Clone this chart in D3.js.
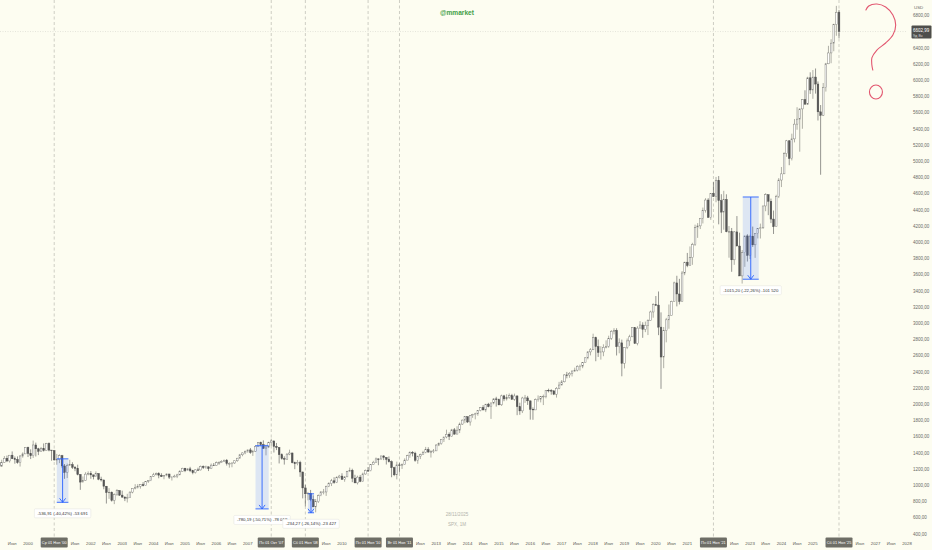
<!DOCTYPE html>
<html><head><meta charset="utf-8">
<script src="https://cdn.jsdelivr.net/npm/d3@7"></script>
<style>
html,body{margin:0;padding:0;background:#fdfdf1;overflow:hidden}
svg{display:block;font-family:"Liberation Sans",Arial,sans-serif}
</style>
</head><body>
<svg id="c" width="932" height="550"></svg>
<script>
// ---- DATA: SPX monthly candles, first month Jan 1999 ----
const firstMonth = "1999-01";
const opens = [
1229,1280,1238,1286,1335,1302,1373,1329,1320,1283,1363,1389,
1469,1394,1366,1499,1452,1421,1455,1431,1518,1436,1429,1315,
1320,1366,1240,1160,1249,1256,1224,1211,1134,1041,1060,1139,
1148,1130,1107,1147,1077,1067,990,912,916,815,886,936,
880,856,841,848,917,964,975,990,1008,996,1051,1058,
1112,1131,1145,1126,1107,1121,1141,1102,1104,1115,1130,1174,
1212,1181,1204,1181,1157,1192,1191,1234,1220,1229,1207,1250,
1248,1280,1281,1295,1311,1270,1270,1277,1304,1336,1378,1401,
1418,1438,1407,1421,1482,1531,1503,1455,1474,1527,1549,1481,
1468,1379,1331,1323,1386,1400,1280,1267,1283,1166,969,896,
903,826,735,798,873,919,919,988,1021,1057,1036,1096,
1115,1074,1105,1169,1187,1089,1031,1102,1049,1141,1183,1181,
1258,1286,1327,1326,1364,1345,1321,1292,1219,1131,1253,1247,
1258,1312,1366,1409,1398,1310,1362,1379,1407,1441,1412,1416,
1426,1498,1515,1569,1598,1631,1606,1686,1633,1682,1757,1806,
1848,1783,1860,1872,1884,1924,1960,1931,2003,1972,2018,2068,
2059,1995,2105,2068,2086,2107,2063,2104,1972,1920,2079,2080,
2044,1940,1932,2060,2065,2097,2099,2174,2171,2168,2126,2199,
2239,2279,2364,2363,2384,2412,2423,2470,2472,2519,2575,2648,
2674,2824,2714,2641,2648,2705,2718,2816,2902,2914,2712,2760,
2507,2704,2784,2834,2946,2752,2942,2980,2927,2977,3038,3141,
3231,3226,2954,2585,2912,3044,3100,3271,3500,3363,3270,3622,
3756,3714,3811,3973,4181,4204,4298,4395,4523,4308,4605,4567,
4766,4516,4374,4530,4132,4132,3785,4130,3955,3586,3872,4080,
3840,4077,3970,4109,4170,4180,4450,4589,4508,4288,4194,4568,
4770,4846,5096,5254,5036,5278,5460,5522,5648,5762,5706,6032,
5882,6041,5955,5612,5569,5912,6205,6339,6460,6689,6840];
const highs = [
1280,1280,1317,1362,1368,1373,1419,1357,1358,1373,1408,1474,
1478,1445,1553,1528,1464,1475,1518,1525,1531,1437,1438,1389,
1384,1377,1264,1269,1316,1286,1239,1256,1139,1110,1163,1173,
1177,1131,1173,1147,1107,1070,993,966,925,901,954,940,
935,864,896,926,966,1015,1016,1012,1040,1054,1064,1112,
1155,1159,1163,1150,1128,1146,1141,1109,1132,1143,1188,1218,
1217,1212,1229,1192,1199,1219,1245,1246,1244,1234,1270,1276,
1295,1297,1311,1319,1326,1285,1281,1306,1340,1389,1407,1431,
1441,1462,1439,1499,1535,1541,1556,1503,1539,1576,1552,1524,
1472,1396,1359,1397,1441,1405,1293,1314,1304,1167,1007,919,
944,877,832,888,930,956,997,1039,1080,1101,1113,1130,
1150,1113,1180,1220,1206,1131,1120,1129,1158,1196,1227,1263,
1303,1344,1333,1364,1371,1346,1357,1308,1230,1293,1278,1270,
1334,1378,1420,1423,1416,1364,1392,1427,1475,1471,1434,1449,
1510,1530,1570,1598,1688,1654,1698,1709,1730,1776,1814,1849,
1850,1868,1884,1897,1925,1968,1991,2006,2019,2019,2076,2094,
2072,2120,2118,2126,2135,2130,2133,2113,2021,2094,2117,2105,
2044,1963,2073,2111,2104,2121,2178,2194,2188,2169,2214,2278,
2301,2372,2401,2399,2418,2454,2484,2491,2520,2582,2658,2695,
2873,2836,2801,2718,2742,2791,2848,2917,2941,2940,2815,2800,
2708,2814,2860,2949,2954,2965,3028,3014,3022,3050,3157,3248,
3338,3394,3136,2955,3068,3233,3280,3515,3588,3550,3646,3760,
3870,3950,3995,4219,4238,4302,4430,4546,4546,4608,4744,4808,
4819,4595,4637,4594,4202,4178,4140,4325,4120,3906,4080,4101,
4095,4195,4110,4170,4232,4450,4607,4589,4541,4393,4588,4794,
4931,5112,5265,5264,5342,5523,5669,5651,5768,5878,6045,6100,
6128,6147,5987,5696,5968,6216,6427,6508,6699,6920,6870];
const lows = [
1205,1212,1228,1282,1287,1281,1325,1268,1268,1233,1342,1387,
1350,1325,1339,1357,1374,1420,1418,1431,1421,1305,1306,1255,
1275,1214,1081,1091,1243,1203,1175,1124,945,1041,1055,1124,
1082,1074,1107,1064,1048,952,776,834,800,769,872,869,
845,806,789,848,902,951,962,960,988,996,1031,1053,
1105,1124,1088,1107,1076,1113,1079,1060,1101,1090,1127,1172,
1164,1180,1164,1137,1146,1188,1184,1202,1205,1177,1202,1246,
1245,1253,1277,1291,1245,1219,1224,1265,1291,1333,1360,1385,
1403,1390,1364,1416,1478,1484,1455,1371,1463,1490,1406,1436,
1271,1317,1257,1320,1373,1272,1200,1248,1106,840,742,816,
805,735,667,783,867,889,870,979,992,1020,1029,1086,
1071,1045,1105,1165,1040,1029,1011,1040,1049,1132,1173,1174,
1257,1285,1249,1317,1312,1258,1282,1101,1114,1075,1159,1203,
1258,1312,1341,1358,1292,1267,1325,1378,1397,1403,1344,1398,
1426,1485,1502,1536,1582,1560,1605,1627,1633,1646,1746,1768,
1770,1738,1834,1815,1860,1915,1930,1905,1964,1821,2001,1973,
1988,1981,2040,2048,2068,2056,2045,1867,1872,1893,2019,1993,
1812,1810,1931,2034,2025,1992,2075,2148,2120,2115,2084,2188,
2238,2271,2322,2329,2345,2403,2407,2417,2447,2519,2557,2605,
2673,2533,2586,2553,2595,2692,2699,2796,2864,2604,2631,2347,
2444,2682,2722,2834,2750,2729,2940,2822,2892,2856,3037,3070,
3214,2855,2192,2447,2766,2934,3100,3271,3210,3234,3270,3595,
3694,3714,3723,3957,4056,4165,4234,4368,4306,4279,4560,4496,
4223,4115,4157,4125,3811,3637,3723,3955,3585,3492,3698,3764,
3795,3944,3809,4049,4048,4167,4385,4336,4238,4104,4192,4547,
4683,4845,5057,4953,5012,5235,5391,5120,5403,5705,5697,5833,
5773,5837,5505,4835,5560,5862,6201,6212,6360,6551,6521];
const closes = [
1280,1238,1286,1335,1302,1373,1329,1320,1283,1363,1389,1469,
1394,1366,1499,1452,1421,1455,1431,1518,1436,1429,1315,1320,
1366,1240,1160,1249,1256,1224,1211,1134,1041,1060,1139,1148,
1130,1107,1147,1077,1067,990,912,916,815,886,936,880,
856,841,848,917,964,975,990,1008,996,1051,1058,1112,
1131,1145,1126,1107,1121,1141,1102,1104,1115,1130,1174,1212,
1181,1204,1181,1157,1192,1191,1234,1220,1229,1207,1250,1248,
1280,1281,1295,1311,1270,1270,1277,1304,1336,1378,1401,1418,
1438,1407,1421,1482,1531,1503,1455,1474,1527,1549,1481,1468,
1379,1331,1323,1386,1400,1280,1267,1283,1166,969,896,903,
826,735,798,873,919,919,988,1021,1057,1036,1096,1115,
1074,1105,1169,1187,1089,1031,1102,1049,1141,1183,1181,1258,
1286,1327,1326,1364,1345,1321,1292,1219,1131,1253,1247,1258,
1312,1366,1409,1398,1310,1362,1379,1407,1441,1412,1416,1426,
1498,1515,1569,1598,1631,1606,1686,1633,1682,1757,1806,1848,
1783,1860,1872,1884,1924,1960,1931,2003,1972,2018,2068,2059,
1995,2105,2068,2086,2107,2063,2104,1972,1920,2079,2080,2044,
1940,1932,2060,2065,2097,2099,2174,2171,2168,2126,2199,2239,
2279,2364,2363,2384,2412,2423,2470,2472,2519,2575,2648,2674,
2824,2714,2641,2648,2705,2718,2816,2902,2914,2712,2760,2507,
2704,2784,2834,2946,2752,2942,2980,2927,2977,3038,3141,3231,
3226,2954,2585,2912,3044,3100,3271,3500,3363,3270,3622,3756,
3714,3811,3973,4181,4204,4298,4395,4523,4308,4605,4567,4766,
4516,4374,4530,4132,4132,3785,4130,3955,3586,3872,4080,3840,
4077,3970,4109,4170,4180,4450,4589,4508,4288,4194,4568,4770,
4846,5096,5254,5036,5278,5460,5522,5648,5762,5706,6032,5882,
6041,5955,5612,5569,5912,6205,6339,6460,6689,6840,6603];

// axis tick values / labels
const yTicks = [400,600,800,1000,1200,1400,1600,1800,2000,2200,2400,2600,2800,3000,3200,3400,3600,3800,4000,4200,4400,4600,4800,5000,5200,5400,5600,5800,6000,6200,6400,6600,6800];
const yearTicks = [1999,2000,2001,2002,2003,2004,2005,2006,2007,2008,2009,2010,2011,2012,2013,2014,2015,2016,2017,2018,2019,2020,2021,2022,2023,2024,2025,2026,2027,2028];
const midYearLabel = "Июл";
// vertical marker lines and their axis labels
const markerDates = ["2000-11-01","2007-10-01","2008-11-01","2010-11-01","2011-11-01","2021-11-01","2025-11-01"];
const markerLabels = ["Ср 01 Ноя '00","Пн 01 Окт '07","Сб 01 Ноя '08","Пн 01 Ноя '10","Вт 01 Ноя '11","Пн 01 Ноя '21","Сб 01 Ноя '25"];
// price range measurements
const measStart = ["2000-12-01","2007-04-01","2008-12-01","2022-10-08"];
const measEnd   = ["2001-04-15","2007-09-01","2009-02-10","2023-04-12"];
const measFrom  = [1328.00, 1490.00, 896.24, 4560.60];
const measTo    = [791.09, 709.81, 661.97, 3545.40];
const measText  = ["-536,91 (-40,42%) -53 691","-780,19 (-50,71%) -78 019","-234,27 (-26,14%) -23 427","-1015,20 (-22,26%) -101 520"];
// hand-drawn question mark (decimal year, price)
const doodleYears  = [2026.69,2026.78,2027.04,2027.32,2027.55,2027.64,2027.55,2027.32,2027.04,2026.88,2026.88,2026.91];
const doodlePrices = [6869,6919,6943,6906,6807,6684,6560,6462,6375,6277,6190,6128];
const doodleDot = [2027.01, 5857];
const lastPriceText = "6602,99";
const countdownText = "9д 8ч";
const watermark = ["28/11/2025","SPX, 1M"];
const author = "@mmarket";

// ---- CHART ----
const W = 932, H = 550;
const svg = d3.select("#c");
svg.append("rect").attr("width",W).attr("height",H).attr("fill","#fdfdf1");

const x = d3.scaleUtc().domain([Date.UTC(2000,0,1), Date.UTC(2028,0,1)]).range([28, 907]);
const y = d3.scaleLinear().domain([400, 6800]).range([534, 15.6]);
const yearToDate = t => { const yr = Math.floor(t); const a = Date.UTC(yr,0,1), b = Date.UTC(yr+1,0,1); return new Date(a + (t-yr)*(b-a)); };

const plotRight = 906, plotBottom = 537;
svg.append("clipPath").attr("id","clip").append("rect").attr("x",0).attr("y",0).attr("width",plotRight).attr("height",plotBottom);
const plot = svg.append("g").attr("clip-path","url(#clip)");

// vertical dashed marker lines
const mDates = markerDates.map(s => new Date(s+"T00:00:00Z"));
plot.selectAll("line.vm").data(mDates).join("line")
  .attr("x1",d=>x(d)).attr("x2",d=>x(d)).attr("y1",0).attr("y2",plotBottom)
  .attr("stroke","#b9b9b0").attr("stroke-width",0.7).attr("stroke-dasharray","3,2.5");

// price line
const lastClose = closes[closes.length-1];
plot.append("line").attr("x1",0).attr("x2",plotRight).attr("y1",y(lastClose)).attr("y2",y(lastClose))
  .attr("stroke","#8a8a8a").attr("stroke-opacity",0.35).attr("stroke-width",0.6).attr("stroke-dasharray","1,1.5");

// watermark
svg.append("text").attr("x",457).attr("y",516).attr("text-anchor","middle").attr("font-size",4.6).attr("fill","#b4b4ac").text(watermark[0]);
svg.append("text").attr("x",457).attr("y",526).attr("text-anchor","middle").attr("font-size",4.6).attr("fill","#b4b4ac").text(watermark[1]);

// candles
const start = new Date(firstMonth+"-01T00:00:00Z");
const candles = closes.map((c,i)=>({d:d3.utcMonth.offset(start,i), o:opens[i], h:highs[i], l:lows[i], c}));
const bw = 1.7;
const cg = plot.append("g");
cg.selectAll("line.w").data(candles).join("line")
  .attr("x1",d=>x(d.d)).attr("x2",d=>x(d.d)).attr("y1",d=>y(d.h)).attr("y2",d=>y(d.l))
  .attr("stroke",d=>d.c>=d.o?"#7a7a74":"#505050").attr("stroke-width",0.6);
cg.selectAll("rect.b").data(candles).join("rect")
  .attr("x",d=>x(d.d)-bw/2).attr("width",bw)
  .attr("y",d=>y(Math.max(d.o,d.c)))
  .attr("height",d=>Math.max(0.6, Math.abs(y(d.o)-y(d.c))))
  .attr("fill",d=>d.c>=d.o?"#ffffff":"#565656")
  .attr("stroke",d=>d.c>=d.o?"#7a7a74":"#505050").attr("stroke-width",0.45);

// measurements
const blue = "#2962ff";
measStart.forEach((s,i)=>{
  const x1 = x(new Date(s+"T00:00:00Z")), x2 = x(new Date(measEnd[i]+"T00:00:00Z"));
  const ya = y(measFrom[i]), yb = y(measTo[i]);
  const cx = (x1+x2)/2;
  const g = svg.append("g");
  g.append("rect").attr("x",x1).attr("y",ya).attr("width",x2-x1).attr("height",yb-ya).attr("fill","rgba(41,98,255,0.15)");
  g.append("line").attr("x1",x1).attr("x2",x2).attr("y1",ya).attr("y2",ya).attr("stroke",blue).attr("stroke-width",0.9);
  g.append("line").attr("x1",x1).attr("x2",x2).attr("y1",yb).attr("y2",yb).attr("stroke",blue).attr("stroke-width",0.9);
  g.append("line").attr("x1",cx).attr("x2",cx).attr("y1",ya).attr("y2",yb).attr("stroke",blue).attr("stroke-width",0.9);
  g.append("path").attr("d",`M${cx-3},${yb-4}L${cx},${yb}L${cx+3},${yb-4}`).attr("fill","none").attr("stroke",blue).attr("stroke-width",0.9);
  const t = g.append("text").attr("x",cx).attr("y",yb+12.5).attr("text-anchor","middle").attr("font-size",4.3).attr("fill","#333").text(measText[i]);
  const tw = t.node().getComputedTextLength();
  g.insert("rect","text").attr("x",cx-tw/2-3).attr("y",yb+6.5).attr("width",tw+6).attr("height",9)
    .attr("fill","#ffffff").attr("stroke","#e2e2dc").attr("stroke-width",0.5).attr("rx",1);
});

// author
svg.append("text").attr("x",457).attr("y",15).attr("text-anchor","middle").attr("font-size",6.6).attr("fill","#3f9f46").attr("font-weight","bold").text(author);

// red doodle
const dl = d3.line().x(d=>x(yearToDate(d[0]))).y(d=>y(d[1])).curve(d3.curveCatmullRom);
svg.append("path").attr("d",dl(doodleYears.map((t,i)=>[t,doodlePrices[i]])))
  .attr("fill","none").attr("stroke","#e2566f").attr("stroke-width",1.1).attr("stroke-linecap","round");
svg.append("ellipse").attr("cx",x(yearToDate(doodleDot[0]))).attr("cy",y(doodleDot[1])).attr("rx",6.5).attr("ry",7)
  .attr("fill","none").attr("stroke","#e2566f").attr("stroke-width",1.1);

// y axis labels (right)
svg.append("text").attr("x",914).attr("y",8.5).attr("font-size",4.4).attr("fill","#6a6a66").text("USD");
svg.selectAll("text.yl").data(yTicks).join("text")
  .attr("x",913).attr("y",d=>y(d)+1.6).attr("font-size",4.5).attr("fill","#6a6a66")
  .text(d=>d+",00");

// last price tag
const ty = y(lastClose);
svg.append("rect").attr("x",911.5).attr("y",ty-6).attr("width",20).attr("height",13).attr("fill","#4e4e4b").attr("rx",1);
svg.append("text").attr("x",913).attr("y",ty+0.3).attr("font-size",4.5).attr("fill","#fff").text(lastPriceText);
svg.append("text").attr("x",913).attr("y",ty+5).attr("font-size",3.8).attr("fill","#ddd").text(countdownText);

// x axis labels
const xlab = [];
yearTicks.forEach(yr=>{
  xlab.push({d:new Date(Date.UTC(yr,0,1)), t:String(yr)});
  xlab.push({d:new Date(Date.UTC(yr,6,1)), t:midYearLabel});
});
const mx = mDates.map(d=>x(d));
const visible = xlab.filter(l=>{ const px=x(l.d); return px>4 && px<912 && mx.every(m=>Math.abs(m-px)>15.5); });
svg.selectAll("text.xl").data(visible).join("text")
  .attr("x",d=>x(d.d)).attr("y",544.5).attr("text-anchor","middle").attr("font-size",4.3).attr("fill","#55554f")
  .text(d=>d.t);

// marker date boxes
mDates.forEach((d,i)=>{
  const px = x(d);
  svg.append("rect").attr("x",px-13.5).attr("y",537.5).attr("width",27).attr("height",10).attr("fill","#6e6e66").attr("rx",1);
  svg.append("text").attr("x",px).attr("y",544.2).attr("text-anchor","middle").attr("font-size",3.9).attr("fill","#fff").text(markerLabels[i]);
});
</script>
</body></html>
